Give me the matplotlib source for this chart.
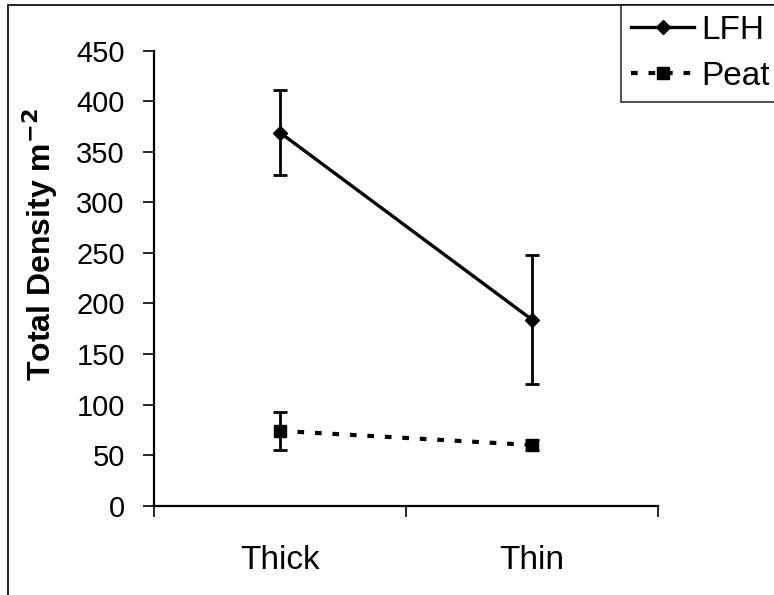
import numpy as np
import matplotlib
matplotlib.use("Agg")
import matplotlib.pyplot as plt
from matplotlib.patches import Rectangle
from matplotlib.lines import Line2D

plt.rcParams["font.family"] = ["Liberation Sans", "DejaVu Sans"]
plt.rcParams["axes.unicode_minus"] = False

categories = ["Thick", "Thin"]
lfh_mean = [369, 184]
lfh_err = [42, 64]
peat_mean = [74, 60]
peat_err = [19, 5]

fig = plt.figure(figsize=(7.74, 5.95), dpi=100)
ax = fig.add_axes([154 / 774, 1 - 505.7 / 595, 504 / 774, 455 / 595])

xpos = np.arange(len(categories)) + 0.5
peat_ls = (0, (1.6, 2.6))
ax.errorbar(xpos, lfh_mean, yerr=lfh_err, color="black", lw=2.4, marker="D", ms=7,
            capsize=5, capthick=2, elinewidth=2)
ax.errorbar(xpos, peat_mean, yerr=peat_err, color="black", lw=3, ls=peat_ls,
            marker="s", ms=8, capsize=5, capthick=2, elinewidth=2)

ax.set_xlim(0, 2)
ax.set_ylim(0, 450)
ax.set_yticks(np.arange(0, 451, 50))
ax.set_xticks([0, 1, 2])
ax.set_xticklabels([])
ax.set_xticks(xpos, minor=True)
ax.set_xticklabels(categories, minor=True)
ax.tick_params(axis="x", which="minor", length=0, pad=28, labelsize=24)
ax.tick_params(axis="x", which="major", length=8, width=1.2, direction="out")
ax.tick_params(axis="y", length=8, width=1.2, pad=13, labelsize=21)
for s in ("top", "right"):
    ax.spines[s].set_visible(False)
for s in ("left", "bottom"):
    ax.spines[s].set_linewidth(1.6)

ax.set_ylabel("Total Density m$^{\\mathbf{-2}}$", fontsize=23, fontweight="bold")
ax.yaxis.set_label_coords(-0.186, 0.575)

handles = [Line2D([], [], color="black", lw=2.4, marker="D", ms=7),
           Line2D([], [], color="black", lw=3, ls=peat_ls, marker="s", ms=8)]
leg = fig.legend(handles, ["LFH", "Peat"], loc="upper left", bbox_to_anchor=(621 / 774, 1 - 5 / 595),
                 fontsize=24, frameon=True, fancybox=False, edgecolor="black", handlelength=1.9,
                 handletextpad=0.2, labelspacing=0.45, borderpad=0.3, borderaxespad=0)
leg.get_frame().set_linewidth(1.2)

fig.patches.append(Rectangle((8 / 774, -0.1), 1.2, 1.1 - 5 / 595, transform=fig.transFigure,
                             fill=False, edgecolor="black", lw=1.2))

fig.savefig("out.png", dpi=100)
